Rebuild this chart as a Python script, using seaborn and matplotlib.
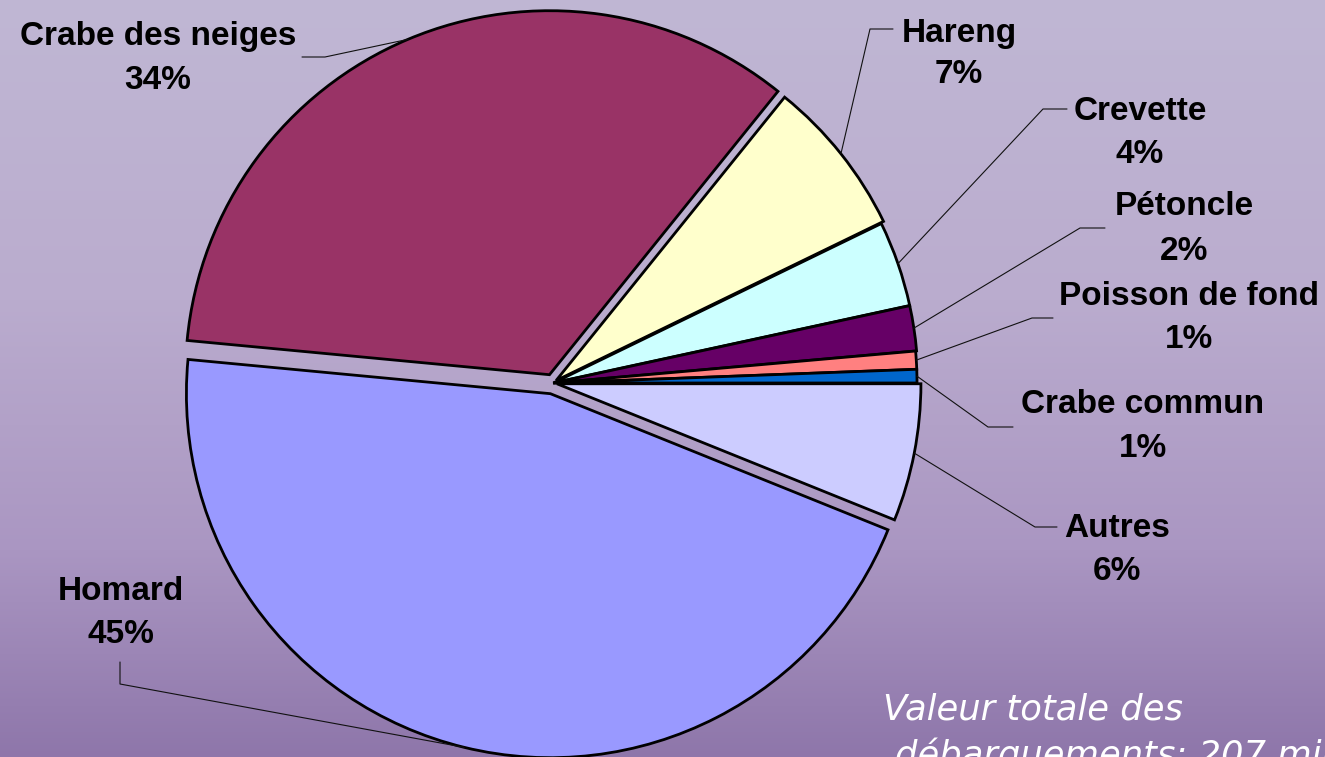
import numpy as np
import matplotlib
matplotlib.use("Agg")
import matplotlib.pyplot as plt
import seaborn as sns

# landed value share by species (%)
species = ["Homard", "Crabe des neiges", "Hareng", "Crevette", "Pétoncle",
           "Poisson de fond", "Crabe commun", "Autres"]
shares = [45.4, 34.3, 7.0, 3.8, 2.0, 0.8, 0.6, 6.1]
slice_colors = ["#9999FF", "#993366", "#FFFFCC", "#CCFFFF", "#660066",
                "#FF8080", "#0066CC", "#CCCCFF"]
note_lines = ["Valeur totale des", "débarquements: 207 millions $"]

W, H = 1325, 757
cx, cy, R = 553, 383, 364
explode_px = [11, 9, 4, 1, 1, 0, 0, 4]

# label layout, image pixel coords: (center x, name baseline, pct baseline)
label_xy = {
    "Homard": (121, 600, 643),
    "Crabe des neiges": (158, 45, 89),
    "Hareng": (959, 42, 83),
    "Crevette": (1140, 120, 163),
    "Pétoncle": (1184, 215, 260),
    "Poisson de fond": (1189, 305, 348),
    "Crabe commun": (1143, 413, 457),
    "Autres": (1117, 537, 580),
}
# leader elbows: (elbow point, end point) in image coords
leader_xy = {
    "Homard": ((120, 684), (120, 662)),
    "Crabe des neiges": ((325, 57), (302, 57)),
    "Hareng": ((870, 29), (893, 29)),
    "Crevette": ((1043, 109), (1067, 109)),
    "Pétoncle": ((1080, 228), (1105, 228)),
    "Poisson de fond": ((1032, 318), (1053, 318)),
    "Crabe commun": ((988, 427), (1013, 427)),
    "Autres": ((1035, 527), (1057, 527)),
}


def up(y):
    return H - y


sns.set_theme(style="white")
plt.rcParams['font.family'] = ['Liberation Sans', 'DejaVu Sans']

fig = plt.figure(figsize=(W / 100, H / 100), dpi=100)
ax = fig.add_axes([0, 0, 1, 1])

# sea-like background gradient
stops_y = [0, 300, 550, 757]
stops_c = np.array([[192, 183, 212], [186, 172, 206], [170, 150, 194], [142, 118, 170]]) / 255
rows = np.arange(H)
grad = np.stack([np.interp(rows, stops_y, stops_c[:, k]) for k in range(3)], axis=1)
bg = np.repeat(grad[:, None, :], 8, axis=1)
ax.imshow(bg, extent=(0, W, 0, H), aspect='auto', zorder=0, interpolation='bilinear')

# explode is in data units here (axes are in pixels)
wedges, _ = ax.pie(shares, colors=slice_colors, startangle=-shares[-1] * 3.6,
                   counterclock=False, radius=R, center=(cx, up(cy)),
                   explode=explode_px,
                   wedgeprops=dict(edgecolor="black", linewidth=2),
                   frame=True)
for w in wedges:
    w.set_zorder(2)

for w, name, pct in zip(wedges, species, shares):
    mid = np.deg2rad((w.theta1 + w.theta2) / 2)
    x0 = w.center[0] + w.r * np.cos(mid)
    y0 = w.center[1] + w.r * np.sin(mid)
    (ex, ey), (tx, ty) = leader_xy[name]
    ax.plot([x0, ex, tx], [y0, up(ey), up(ty)], color="#111111", lw=0.8, zorder=3)
    lx, nb, pb = label_xy[name]
    ax.text(lx, up(nb), name, ha="center", va="baseline", fontsize=24,
            fontweight="bold", color="black", zorder=4)
    ax.text(lx, up(pb), f"{pct:.0f}%", ha="center", va="baseline", fontsize=24,
            fontweight="bold", color="black", zorder=4)

ax.text(883, up(719), note_lines[0], fontsize=25.5, style="italic", color="white",
        family=["DejaVu Sans"], va="baseline", ha="left", zorder=4)
ax.text(895, up(766), note_lines[1], fontsize=25.5, style="italic", color="white",
        family=["DejaVu Sans"], va="baseline", ha="left", zorder=4, clip_on=False)

ax.set_xlim(0, W)
ax.set_ylim(0, H)
ax.set_aspect('auto')
ax.set_axis_off()

fig.savefig("out.png", dpi=100)
